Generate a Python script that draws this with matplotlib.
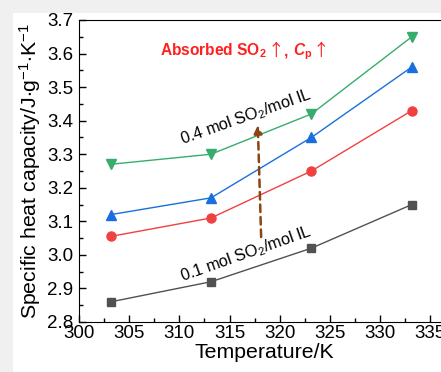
import matplotlib
matplotlib.use("Agg")
import matplotlib.pyplot as plt
from matplotlib.patches import Rectangle
from matplotlib.ticker import MultipleLocator, FormatStrFormatter
from matplotlib.offsetbox import TextArea, HPacker, AnnotationBbox

plt.rcParams['font.family'] = ['Liberation Sans', 'DejaVu Sans']
plt.rcParams['mathtext.fontset'] = 'custom'
plt.rcParams['mathtext.rm'] = 'Liberation Sans'
plt.rcParams['mathtext.it'] = 'Liberation Sans:italic'
plt.rcParams['mathtext.bf'] = 'Liberation Sans:bold'
plt.rcParams['mathtext.bfit'] = 'Liberation Sans:bold:italic'

# data
temps = [303.15, 313.15, 323.15, 333.15]
cp_01 = [2.86, 2.92, 3.02, 3.15]
cp_02 = [3.055, 3.11, 3.25, 3.43]
cp_03 = [3.12, 3.17, 3.35, 3.56]
cp_04 = [3.27, 3.30, 3.42, 3.65]

W, H = 441, 372
fig = plt.figure(figsize=(W / 100, H / 100), dpi=100, facecolor='#f0f0f0')
# white page area (image is a crop of a bigger figure)
fig.patches.append(Rectangle((13 / W, 0), 1, 1 - 13 / H, transform=fig.transFigure,
                             facecolor='white', edgecolor='none', zorder=-1))

x0, x1 = 79, 79 + 37 * 10.04
ax = fig.add_axes([x0 / W, (H - 322) / H, (x1 - x0) / W, 302 / H])
ax.set_facecolor('none')

ax.plot(temps, cp_01, '-s', color='#515151', lw=1, ms=6)
ax.plot(temps, cp_02, '-o', color='#F14040', lw=1, ms=6.5)
ax.plot(temps, cp_03, '-^', color='#1A6FDF', lw=1, ms=7)
ax.plot(temps, cp_04, '-v', color='#37AD6B', lw=1, ms=7)

ax.set_xlim(300, 337)
ax.set_ylim(2.8, 3.7)
ax.xaxis.set_major_locator(MultipleLocator(5))
ax.xaxis.set_minor_locator(MultipleLocator(2.5))
ax.yaxis.set_major_locator(MultipleLocator(0.1))
ax.yaxis.set_minor_locator(MultipleLocator(0.05))
ax.yaxis.set_major_formatter(FormatStrFormatter('%.1f'))
ax.tick_params(which='both', direction='in', labelsize=13.5)
ax.tick_params(which='major', length=5, width=1)
ax.tick_params(which='minor', length=3, width=1)
ax.tick_params(axis='x', pad=2)
ax.tick_params(axis='y', pad=4)

ax.set_xlabel('Temperature/K', fontsize=15.3, labelpad=1)
ax.set_ylabel(r'Specific heat capacity/J$\cdot$g$^{-1}$$\cdot$K$^{-1}$', fontsize=15.3, labelpad=3)

ax.text(316.6, 3.411, r'0.4 mol SO$_2$/mol IL', fontsize=11.7, rotation=19.5,
        ha='center', va='center')
ax.text(316.6, 3.003, r'0.1 mol SO$_2$/mol IL', fontsize=11.7, rotation=19.5,
        ha='center', va='center')

ax.annotate('', xy=(317.8, 3.395), xytext=(318.15, 3.045),
            arrowprops=dict(arrowstyle='-|>', color='#8B4513', lw=1.8,
                            linestyle=(0, (3, 2)), mutation_scale=12))

# red headline, arrows in a thin font
red = '#FF2020'
bold = dict(fontsize=11.2, fontweight='bold', color=red)
arrow = dict(fontsize=12, color=red, family=['Noto Sans CJK SC', 'DejaVu Sans'])
parts = [TextArea(r'Absorbed SO$_\mathbf{2}$ ', textprops=bold),
         TextArea('↑', textprops=arrow),
         TextArea(', ', textprops=bold),
         TextArea(r'$\mathbfit{C}_\mathbf{p}$ ', textprops=bold),
         TextArea('↑', textprops=arrow)]
box = HPacker(children=parts, align='baseline', pad=0, sep=0)
ax.add_artist(AnnotationBbox(box, (316.5, 3.605), frameon=False, pad=0,
                             box_alignment=(0.5, 0.5)))

fig.savefig('out.png', dpi=100, facecolor=fig.get_facecolor())
